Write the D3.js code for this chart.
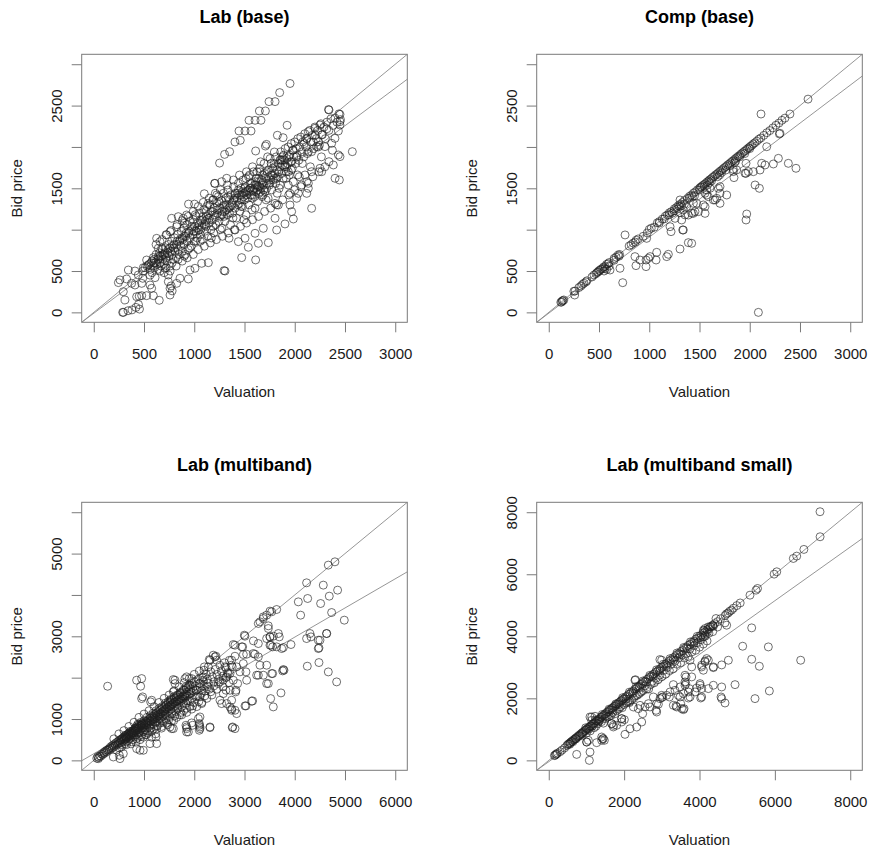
<!DOCTYPE html>
<html>
<head>
<meta charset="utf-8">
<script src="https://cdn.jsdelivr.net/npm/d3@7"></script>
<style>
  html, body { margin: 0; padding: 0; background: #fff; }
  svg { display: block; font-family: "Liberation Sans", Arial, sans-serif; }
</style>
</head>
<body>
<svg id="chart" width="869" height="852"></svg>
<script>
// Panel titles, axis limits and tick settings
const titles = ["Lab (base)", "Comp (base)", "Lab (multiband)", "Lab (multiband small)"];
const axisMax = [3000, 3000, 6000, 8000];
const tickStep = [500, 500, 1000, 2000];
const xTickLabels = [
  ["0", "500", "1000", "1500", "2000", "2500", "3000"],
  ["0", "500", "1000", "1500", "2000", "2500", "3000"],
  ["0", "1000", "2000", "3000", "4000", "5000", "6000"],
  ["0", "2000", "4000", "6000", "8000"]
];
const yTickLabels = [
  [0, 500, 1500, 2500],
  [0, 500, 1500, 2500],
  [0, 1000, 3000, 5000],
  [0, 2000, 4000, 6000, 8000]
];
const xLabel = "Valuation";
const yLabel = "Bid price";

// Reference lines per panel: [intercept, slope]
const identityLine = [0, 1];
const fitLines = [[-11, 0.907], [-10, 0.919], [160, 0.705], [-43, 0.865]];

// Bids against valuations: Lab (base)
const labBase = [
  [288,0],[295,0],[341,20],[380,30],[420,60],[445,95],[455,40],
  [261,392],[245,360],[327,404],[377,351],[410,331],[477,351],[487,412],[560,331],[576,291],
  [427,190],[452,195],[477,202],[526,202],[593,202],[652,146],[294,250],[311,150],
  [344,512],[410,500],[443,452],[493,540],[543,573],[526,633],[593,662],[642,674],[676,775],
  [709,533],[742,452],[742,371],[759,291],[759,210],[825,351],[858,412],[941,404],[770,320],[780,260],
  [958,512],[1007,533],[1074,593],[1140,601],
  [659,855],[626,895],[642,775],[725,936],[759,976],[825,1036],[775,1137],[841,1157],[891,1137],[924,1177],
  [1140,1318],[1190,1359],[1206,1560],[1273,1580],[1323,1621],[1306,500],[1296,505],
  [1953,2767],[1850,2657],[1744,2548],[1804,2548],[1648,2435],[1708,2435],[1545,2322],[1605,2322],[1664,2322],
  [1445,2193],[1505,2193],[1565,2193],[1405,2060],[1458,2080],[1302,1910],[1352,1943],[1252,1805],[1203,1559],
  [1100,1434],[943,1309],[1003,1309],[1924,2262],[1827,2141],[1884,2112],[1718,2031],[1708,2011],[1611,1951],[1797,1939],
  [2341,2447],[2336,2452],[2450,2394],[2450,2306],[2450,2265],[2434,2193],[2400,2104],[2367,2044],[2301,2004],
  [2573,1943],[2401,1621],[2444,1601],[2384,1782],[2341,1822],[2268,1701],[2251,1742],[2450,1883],[2434,1903],
  [2168,1258],[2119,1439],[2135,1500],[2036,1439],[2019,1379],[1953,1298],[1969,1218],[1986,1129],[1903,1069],
  [1820,996],[1737,843],[1638,835],[1611,634],[1538,787],[1472,662],[1687,1016],[1605,956],[1505,896],[1439,855],
  [1406,996],[1346,896],[1804,1137],[1837,1298],[1804,1318],[1953,1439],[1986,1580],[2029,1661],[2102,1661],[2168,1701],
  [2069,1540],[2135,1560],[1936,1701],[1903,1782],[1853,1842],[1969,1822],[2168,1943],[2218,2004],[2235,2064],
  [2268,2145],[2201,2225],[2251,2265],[2119,2104],[2135,2185],
  [560,520],[570,600],[580,480],[590,560],[600,640],[605,540],[615,600],[620,700],[630,580],[640,520],[645,650],
  [655,720],[660,600],[670,560],[675,680],[685,760],[690,640],[700,590],[705,700],[715,780],[720,660],[730,620],
  [735,720],[745,820],[750,680],[760,560],[765,740],[775,860],[780,700],[790,640],[795,780],[805,900],[810,740],
  [820,660],[825,820],[835,940],[840,760],[850,700],[855,860],[865,800],[870,980],[880,740],[885,880],[895,1020],
  [900,820],[910,700],[915,920],[925,1060],[930,860],[940,760],[945,960],[955,1100],[960,900],[970,800],[975,1000],
  [985,940],[990,1120],[1000,860],[1005,1040],[1015,980],[1020,1160],[1030,900],[1035,1080],[1045,1000],[1050,1200],
  [1060,940],[1065,1110],[1075,1040],[1080,880],[1090,1160],[1095,1240],[1105,980],[1110,1100],[1120,1040],[1125,1280],
  [1135,920],[1140,1180],[1150,1080],[1155,1300],[1165,1000],[1170,1220],[1180,1120],[1185,1360],[1195,960],[1200,1260],
  [1210,1160],[1215,1060],[1225,1320],[1230,1200],[1240,1400],[1245,1100],[1255,1260],[1260,1000],[1270,1350],[1275,1180],
  [1285,1280],[1290,1440],[1300,1220],[1305,1100],[1315,1380],[1320,1300],[1330,1180],[1335,1480],[1345,1260],[1350,1360],
  [1360,1060],[1365,1420],[1375,1300],[1380,1200],[1390,1520],[1395,1360],[1405,1260],[1410,1440],[1420,1140],[1425,1380],
  [1435,1300],[1440,1560],[1450,1420],[1455,1220],[1465,1500],[1470,1360],[1480,1280],[1485,1600],[1495,1440],[1500,1360],
  [1510,1520],[1515,1180],[1525,1460],[1530,1380],[1540,1640],[1545,1300],[1555,1500],[1560,1420],[1570,1560],[1575,1240],
  [1585,1480],[1590,1700],[1600,1400],[1605,1540],[1615,1460],[1620,1620],[1630,1340],[1635,1520],[1645,1440],[1650,1740],
  [1660,1580],[1665,1500],[1675,1400],[1680,1660],[1690,1540],[1695,1800],[1705,1460],[1710,1620],[1720,1560],[1725,1700],
  [1735,1380],[1740,1640],[1750,1540],[1755,1860],[1765,1660],[1770,1480],[1780,1740],[1785,1600],[1795,1800],[1800,1680],
  [1810,1560],[1815,1880],[1825,1720],[1830,1640],[1840,1800],[1845,1500],[1855,1760],[1860,1940],[1870,1680],[1875,1840],
  [1885,1620],[1890,1900],[1900,1760],[1905,1980],[1915,1700],[1920,1860],[1930,1800],[1935,2000],[1945,1660],[1950,1900],
  [1960,1820],[1965,2040],[1975,1740],[1980,1960],[1990,1880],[2000,2060],[2010,1800],[2015,1980],[2025,1900],[2030,2100],
  [2040,1840],[2050,2000],[2060,2120],[2070,1940],[2080,2060],[2090,1880],[2100,2160],[2110,2000],[2120,2100],[2135,1940],
  [2150,2200],[2160,2060],[2175,2140],[2190,1980],[2200,2240],[2215,2100],[2230,2200],[2245,2020],[2260,2280],[2275,2150],
  [2290,2240],[2305,2100],[2320,2300],[2340,2200],[2360,2340],[2380,2260],[2400,2350],[2420,2300],[2440,2400],[2455,2330],
  [1320,1240],[1350,1200],[1380,1320],[1400,1380],[1430,1440],[1450,1320],[1480,1460],[1500,1500],[1520,1420],[1540,1480],
  [1560,1560],[1580,1380],[1600,1500],[1620,1540],[1640,1620],[1660,1460],[1680,1560],[1700,1680],[1720,1500],[1740,1720],
  [1760,1600],[1780,1660],[1800,1760],[1820,1620],[1840,1700],[1860,1840],[1880,1780],[1900,1840],[1920,1760],[1940,1880],
  [1560,1500],[1590,1460],[1610,1580],[1630,1480],[1650,1520],[1670,1600],[1690,1480],[1470,1420],[1490,1400],[1510,1460],
  [1200,1180],[1230,1240],[1260,1160],[1280,1220],[1300,1300],[1180,1220],[1150,1140],[1120,1160],[1100,1060],[1080,1120],
  [1050,1060],[1030,1020],[1000,980],[980,1040],[950,980],[920,960],[900,920],[880,900],[860,880],[830,860],[800,820],
  [780,800],[760,780],[740,760],[710,720],[690,700],[660,680],[640,640],[600,600],[580,620],[550,580],[530,560],[510,540],[490,500],
  [620,820],[680,880],[720,940],[770,990],[830,1060],[880,1110],[940,1160],[990,1220],[1040,1280],[1090,1330],[1150,1380],
  [1210,1440],[1260,1480],[1330,1540],[1390,1600],[1450,1660],[1520,1700],[1580,1760],[1660,1820],[1730,1880],
  [700,480],[760,500],[820,560],[880,620],[930,660],[990,700],[1040,760],[1100,800],[1160,840],[1220,880],[1280,920],
  [1340,960],[1400,1000],[1460,1040],[1520,1080],[1580,1120],[1640,1160],[1700,1220],[1760,1260],[1820,1300],[1880,1360],
  [1940,1420],[2000,1480],[2060,1520],[2120,1580],[2180,1640],[2240,1700],[2300,1760],
  [1010,1180],[1060,860],[1115,1220],[1170,900],[1225,1420],[1275,1020],[1335,1400],[1385,1140],[1440,1480],[1495,1120],
  [1550,1660],[1605,1260],[1655,1700],[1715,1360],[1765,1800],[1825,1440],[1875,1880],[1935,1540],[1985,1960],[2045,1640],
  [2095,2040],[2155,1760],[2205,2140],[2265,1880],[2320,2220],[2375,1960],[905,1080],[955,780],[1015,860],[1065,1000],
  [1125,1120],[1185,1040],[1245,1340],[1295,1160],[1355,1280],[1405,1420],[1465,1280],[1515,1620],[1575,1420],[1625,1700],
  [1685,1420],[1745,1560],[1795,1620],[1855,1540],[1915,1620],[1965,1720],[2015,1880],[2075,1800],[2125,1920],[2185,2060],
  [2235,2000],[560,450],[610,420],[660,500],[720,540],[780,600],[840,640],[900,680]
];

// Bids against valuations: Comp (base)
const compBase = [
  [120,122],[128,126],[135,138],[140,142],[150,150],[250,255],[262,258],[300,300],[320,318],[335,338],[350,352],[370,368],
  [380,382],[430,428],[450,452],[470,468],[480,482],[490,488],[500,505],[510,508],[520,522],[535,530],[545,548],[560,555],
  [575,580],[590,588],[600,602],[650,652],[670,668],[690,692],[705,700],[800,802],[820,818],[840,838],[870,872],[890,888],
  [1000,1002],[1020,1018],[1080,1082],[1100,1098],[1130,1128],[1160,1162],[1180,1178],[1200,1204],[1220,1218],[1250,1252],
  [1270,1268],[1290,1292],[1310,1308],[1330,1328],[1350,1352],[1380,1378],[1400,1402],[1420,1418],[1440,1442],[1460,1458],
  [1480,1482],[1500,1500],[1510,1512],[1520,1518],[1530,1532],[1545,1545],[1560,1558],[1575,1576],[1590,1588],[1600,1602],
  [1615,1614],[1630,1632],[1645,1644],[1660,1662],[1675,1674],[1690,1690],[1705,1706],[1720,1718],[1735,1736],[1750,1750],
  [1765,1764],[1780,1782],[1795,1794],[1810,1810],[1825,1826],[1840,1838],[1855,1856],[1870,1870],[1885,1886],[1900,1898],
  [1915,1916],[1930,1930],[1945,1946],[1960,1958],[1975,1976],[1990,1990],[2005,2006],[2020,2018],[2035,2036],[2050,2050],
  [2070,2070],[2090,2092],[2110,2108],[2140,2140],[2170,2172],[2200,2198],[2230,2230],[2260,2262],[2290,2288],[2320,2322],
  [2350,2348],[2400,2398],[2580,2578],
  [1500,1480],[1550,1520],[1580,1540],[1620,1590],[1680,1640],[1720,1690],[1760,1720],[1800,1770],[1860,1830],[1900,1880],
  [1950,1920],[2000,1980],[1400,1380],[1300,1280],[1250,1230],[1200,1180],[1350,1310],[1450,1410],[1100,1080],[650,630],
  [560,530],[600,560],[550,500],[700,680],[860,850],[940,920],[980,960],[1050,1030],[1150,1130],[1230,1200],[1280,1250],
  [1320,1290],[1430,1400],[1600,1570],[1700,1660],[1850,1810],
  [2112,2398],[2086,0],[2295,2157],[2169,2003],[2235,1794],[2285,1862],[2384,1802],[2460,1742],[2119,1802],[2152,1782],
  [2036,1701],[1963,1681],[1963,1802],[2102,1721],[2053,1540],[2096,1500],[1970,1189],[1963,1117],[1837,1729],[1843,1629],
  [1771,1419],[1704,1520],[1704,1318],[1688,1500],[1638,1359],[1671,1379],[1572,1480],[1572,1419],[1605,1500],[1555,1278],
  [1555,1197],[1439,1318],[1439,1197],[1389,1177],[1339,1238],[1372,1278],[1455,1218],[1306,1205],[1323,1117],[1306,1359],
  [1389,843],[1306,766],[1333,996],[1207,1036],[1217,976],[1174,674],[1190,702],[1074,726],[1068,633],[968,633],[991,653],
  [1008,674],[908,633],[858,674],[868,565],[968,553],[759,936],[736,359],[709,533],[610,512],[577,520],[258,210],[974,895],
  [1986,1702],[1953,1682],[1704,1440],[1655,1359],[1588,1399],[1555,1440],[1538,1299],[1472,1319],[1489,1218],[1422,1198],
  [1356,1178],[1257,1137],[1339,996],[1422,835],[1837,1702],[1870,1722],[2301,2165]
];

// Bids against valuations: Lab (multiband)
const labMulti = [
  [4800,4801],[4668,4721],[4236,4293],[4568,4237],[4853,4116],[4687,3971],[4515,3793],[4734,3575],[4986,3390],[4071,3833],
  [4117,3511],[4303,3067],[4323,2986],[4236,2946],[4502,2906],[4482,2720],[4634,3067],[4250,2277],[4482,2365],[4668,2139],
  [4834,1898],[3925,2801],[3772,2728],[3786,2180],[3759,2164],[3726,1631],[3673,3067],[3692,2986],[3560,2744],[3507,2785],
  [3640,3648],[3507,3608],[3441,3511],[3374,3470],[3275,3310],[3308,3350],[3474,3253],[3474,3188],[3441,2946],[3507,2986],
  [3275,2825],[3208,2567],[3308,2301],[3275,2059],[3441,2301],[3560,2099],[3441,1857],[3520,1494],[3573,1293],[3162,1438],
  [3029,1317],[3009,3003],[2963,2744],[2810,2785],[2777,2801],[2810,2518],[2844,2261],[3043,2567],[2976,2341],[3029,2140],
  [3043,1938],[2757,2261],[2744,2422],[2711,2099],[2645,2019],[2910,2140],[2863,1857],[2830,1696],[2744,1244],[2757,792],
  [2313,792],[2300,2438],[2379,2543],[2412,2502],[2445,2422],[2479,1857],[2545,1373],[2512,1454],[2645,1373],[2711,1293],
  [2578,1615],[2631,1696],[2194,2180],[2180,1938],[2114,1857],[2114,1535],[2147,1373],[2114,1050],[2081,1010],[2101,849],
  [2114,768],[2101,889],[1948,905],[1968,849],[1848,808],[1848,687],[1815,1978],[1948,1978],[1583,1954],[1617,1857],
  [1583,1656],[1517,1454],[1583,768],[1152,1454],[1132,1414],[973,1535],[953,1494],[853,1938],[953,1978],[933,1793],
  [276,1793],[986,244],[522,42],[509,123],[389,82],[91,42],
  [3177,2890],[2944,2745],[2977,2559],[3176,2583],[3275,2503],[3773,2196],[3242,2059],[3375,2059],[3541,2099],[3474,1857],
  [3143,1430],[3010,1317],[2811,768],[2811,1212],[3740,2704],[3640,2745],[3527,2785],[4469,2906],[4469,2704],[4635,3067],
  [4257,3914],[3375,3430],[3541,3592],[2997,3027],[3508,2986],[3574,3003],
  [2432,2518],[2313,2422],[2280,2261],[2611,2261],[2678,2099],[2578,1938],[2777,1938],[2711,1696],[2744,1454],[2824,1656],
  [2744,1212],[2844,1131],[2180,2019],[2048,1696],[1849,2019],[1616,1938],[1252,405],[1238,566],[1119,405],[920,244],
  [854,284],[588,163],[1517,808],[1550,768],[1849,768],[1882,687],[1835,849],[2114,808],[2101,728],[2313,808],[2764,808],
  [60,50],[80,90],[100,70],[120,110],[140,100],[160,150],[180,140],[200,190],[210,170],[230,220],[250,200],[260,250],
  [280,240],[300,280],[310,260],[330,320],[340,290],[360,350],[370,300],[390,370],[400,330],[420,400],[430,360],[450,430],
  [460,380],[480,450],[490,410],[500,480],[510,300],[520,440],[530,500],[540,420],[555,520],[560,380],[575,540],[580,460],
  [600,560],[610,500],[620,400],[630,590],[640,520],[650,450],[660,620],[670,560],[680,480],[690,650],[700,590],[710,520],
  [720,680],[730,620],[740,400],[745,560],[760,700],[770,640],[780,500],[790,720],[800,660],[810,580],[820,760],[830,700],
  [840,440],[845,620],[860,800],[870,720],[880,560],[890,820],[900,760],[910,680],[920,500],[930,850],[940,780],[950,620],
  [960,880],[970,800],[980,700],[990,560],[1000,900],[1010,840],[1020,740],[1030,620],[1040,940],[1050,860],[1060,780],
  [1070,660],[1080,980],[1090,900],[1100,820],[1110,700],[1120,1020],[1130,940],[1140,860],[1150,560],[1160,1060],[1170,980],
  [1180,880],[1190,760],[1200,1100],[1210,1000],[1220,920],[1230,640],[1240,1140],[1250,1040],[1260,960],[1270,840],
  [1280,1180],[1290,1080],[1300,1000],[1310,900],[1320,1220],[1330,1120],[1340,1040],[1350,780],[1360,1260],[1370,1160],
  [1380,1080],[1390,960],[1400,1300],[1410,1200],[1420,1120],[1430,1000],[1440,1340],[1450,1240],[1460,1160],[1470,860],
  [1480,1380],[1490,1280],[1500,1200],[1510,1060],[1520,1420],[1530,1320],[1540,1240],[1550,1120],[1560,1460],[1570,1360],
  [1580,1280],[1590,960],[1600,1500],[1610,1400],[1620,1320],[1630,1180],[1640,1540],[1650,1440],[1660,1360],[1670,1240],
  [1680,1580],[1690,1480],[1700,1400],[1710,1100],[1720,1620],[1730,1520],[1740,1440],[1750,1300],[1760,1660],[1770,1560],
  [1780,1480],[1790,1200],[1800,1700],[1810,1600],[1820,1520],[1830,1380],[1840,1740],[1850,1640],[1860,1560],[1870,1440],
  [1880,1780],[1890,1680],[1900,1600],[1910,1300],[1920,1820],[1930,1720],[1940,1640],[1950,1500],[1960,1860],[1970,1760],
  [1980,1680],[1990,1400],[2000,1900],[2020,1800],[2040,1700],[2060,1560],[2080,1960],[2100,1860],[2120,1760],[2140,1620],
  [2160,2000],[2180,1900],[2200,1800],[2220,1680],[2240,2080],[2260,1960],[2280,1860],[2300,1720],[2330,2140],[2360,2020],
  [2390,1900],[2420,2200],[2450,2080],[2480,1960],[2510,2300],[2540,2160],[2570,2040],[2600,2360],[2630,2240],[2660,2120],
  [2700,2420],[2740,2300],
  [700,640],[760,660],[820,720],[880,780],[940,840],[1000,860],[1060,920],[1120,960],[1180,1020],[1240,1080],[1300,1120],
  [1360,1180],[1420,1240],[1480,1300],[1540,1340],[1600,1400],[1660,1440],[1720,1480],[1780,1540],[1840,1580],[650,560],
  [720,600],[790,680],[850,740],[910,800],[970,860],[1030,880],[1090,940],[1150,1000],[1210,1060],[1270,1100],[1330,1140],
  [1390,1200],[1450,1260],[1510,1320],[1570,1380],[1630,1420],[1690,1460],[1750,1500],[1810,1560],[880,880],[940,920],
  [1000,960],[1060,1040],[1120,1080],[1180,1140],[1240,1200],[1300,1260],[1360,1300],[1420,1380],[1480,1420],[1540,1480],
  [1600,1540],[1660,1580],[1720,1640],[1780,1700],[1840,1780],[1900,1820],[560,500],[600,520],[640,580],[680,620],[740,660],
  [780,720],[820,780],[860,840],[900,860],[960,900],
  [400,520],[500,640],[600,720],[700,820],[800,920],[900,1040],[1000,1120],[1100,1200],[1200,1300],[1300,1400],[1400,1500],
  [1500,1580],[1600,1680],[1700,1780],[1800,1880],[1900,1980],[2000,2080],[2100,2160],[2200,2260],
  [450,250],[550,320],[650,380],[750,450],[850,520],[950,580],[1050,620],[1150,700],[1250,760],[1350,820],[1450,900],
  [1550,960],[1650,1040],[1750,1100],[1850,1160],[1950,1240],[2050,1300],[2150,1400],[2250,1500],[2350,1580],
  [620,600],[660,540],[720,700],[780,620],[840,780],[890,660],[950,840],[1010,700],[1070,900],[1130,780],[1190,960],
  [1250,840],[1310,1040],[1370,920],[1430,1100],[1490,980],[1550,1180],[1610,1080],[1670,1280],[1730,1160],[1790,1380],
  [1850,1260],[1910,1440],[1970,1320],[2030,1540],[2090,1420],[2150,1680],[2210,1560],[2270,1780],[2330,1660],[2390,1800],
  [2450,1720],[2510,1900],[2570,1780],[2630,2000],[2690,1880]
];

// Bids against valuations: Lab (multiband small)
const labMultiSmall = [
  [150,155],[170,165],[190,195],[210,205],[230,232],[480,478],[510,515],[530,525],[560,562],[580,575],[600,605],[620,615],
  [650,655],[680,672],[700,705],[720,715],[750,752],[780,775],[800,805],[830,826],[860,865],[880,874],[900,905],[930,925],
  [960,964],[980,972],[1000,1008],[1020,1015],[1050,1055],[1080,1072],[1100,1106],[1120,1113],[1150,1155],[1180,1172],
  [1200,1206],[1230,1222],[1260,1266],[1290,1282],[1320,1326],[1350,1342],[1380,1386],[1400,1392],[1430,1436],[1460,1452],
  [1490,1496],[1520,1512],[1550,1556],[1580,1572],[1610,1616],[1640,1632],[1670,1676],[1700,1692],[1730,1736],[1760,1752],
  [1790,1796],[1820,1812],[1850,1856],[1880,1872],[1910,1916],[1940,1932],[1970,1976],[2000,1992],[2040,2046],[2080,2072],
  [2120,2126],[2160,2152],[2200,2206],[2240,2232],[2280,2286],[2320,2312],[2360,2366],[2400,2392],[2440,2446],[2480,2472],
  [2520,2526],[2560,2552],[2600,2606],[2640,2632],[2680,2686],[2720,2712],[2760,2766],[2800,2792],[2840,2846],[2880,2872],
  [2920,2926],[2960,2952],[3000,3006],[3050,3042],[3100,3106],[3150,3142],[3200,3206],[3250,3242],[3300,3306],[3350,3342],
  [3400,3406],[3450,3442],[3500,3506],[3550,3542],[3600,3606],[3650,3642],[3700,3706],[3750,3742],[3800,3806],[3850,3842],
  [3900,3906],[3950,3942],[4000,4006],[4050,4042],[4100,4106],[4150,4142],[4200,4206],[4250,4242],[4300,4306],[4350,4342],
  [4400,4406],[4480,4472],[4560,4566],[4680,4672],[4720,4726],[4760,4752],[4800,4806],[4850,4842],[4900,4906],[4990,4990],
  [5080,5075],[5340,5326],[5500,5488],[5540,5542],[5980,6004],[6050,6080],[6490,6510],[6580,6585],[6770,6801],[7200,7209],
  [7198,8016],
  [4102,4197],[4146,4250],[4235,4304],[4279,4304],[4368,4326],[4438,4573],[4350,4358],[4146,4035],[4102,3981],[4677,4433],
  [4721,4358],[1094,1400],[1227,1421],[2288,2583],[2996,3229],
  [5385,4272],[5146,3680],[5827,3658],[4766,3228],[5385,3260],[5588,3034],[6685,3228],[5854,2238],[5473,1991],[4943,2442],
  [4368,2991],[4589,3077],[4589,2366],[4677,1850],[4571,2044],[4191,3281],[4147,3206],[4058,3012],[4014,2474],[4032,2011],
  [3925,2334],[3704,2011],[3731,2313],[3634,2474],[3643,2689],[3616,2420],[3501,1828],[3439,2097],[3350,2259],[3306,2442],
  [3589,1667],[3377,1753],[3200,2044],[3129,2097],[3218,2205],[2997,2097],[3023,2044],[2952,1990],[2775,2044],[2864,1828],
  [2643,1828],[2422,1774],[2245,1721],[2139,1861],[2492,1506],[2377,1667],[2864,1560],[2846,1613],[2333,1075],[2466,1237],
  [2156,1021],[2023,839],[1935,1344],[2006,1312],[1714,1129],[1670,1183],[1431,698],[1404,645],[1404,753],[1139,1398],
  [1139,1290],[1095,268],[1077,0],[741,193],[1006,591],
  [4146,3174],[4058,3067],[4368,3013],[4102,2906],[4235,3228],[3748,3228],[3793,3013],[3616,2744],[3793,2690],[3616,2529],
  [3483,2367],[4014,2421],[4368,2421],[3704,2206],[3881,2206],[3571,2152],[3483,2044],[4058,2314],[4235,2314],[4058,2044],
  [3748,2044],[4589,1991],[3571,1636],[2908,1808],[2996,2023],[3306,1776],[3394,1722],[3527,1669],[2554,1722],[2686,1722],
  [1935,1238],[1802,1130],[1669,1184],[1714,1077],[1935,1345],[1050,646],[1006,592],[1271,571],[1448,700],[1475,646],
  [1000,880],[1200,1050],[1300,1180],[1400,1250],[1500,1350],[1600,1420],[1700,1540],[1800,1600],[1900,1720],[2000,1800],
  [2100,1900],[2200,1950],[2300,2080],[2400,2150],[2500,2250],[2600,2300],[2700,2450],[2800,2500],[2900,2600],[3000,2700],
  [3100,2780],[3200,2900],[3300,2950],[3400,3100],[3500,3150],[3600,3300],[3700,3350],[3800,3500],[3900,3550],[4000,3650],
  [4100,3750],[4200,3850],[1100,950],[1250,1100],[1350,1300],[1450,1200],[1550,1400],[1650,1450],[1750,1500],[1850,1650],
  [1950,1700],[2050,1850],[2150,1900],[2250,2000],[2350,2100],[2450,2200],[2550,2400],[2650,2300],[2750,2550],[2850,2650],
  [2950,2750],[3050,2900],[3150,3000],[3250,3100],[3350,3200],[3450,3300],[3550,3400],[3650,3450],[3750,3600],[3850,3700],
  [3950,3800],[4050,3900],[4150,4000],[4250,4100],[4350,4150],[4480,4300],[2300,2600],[2950,3250],
  [300,280],[350,330],[420,400],[560,520],[640,600],[720,690],[820,780],[900,850],[980,1050],[1060,1000],[1150,1100],
  [1240,1300],[1330,1260],[1420,1480],[1510,1440],[1600,1650],[1690,1620],[1780,1820],[1870,1800],[1960,2020],[2050,1980],
  [2140,2200],[2230,2160],[2320,2380],[2410,2340],[2500,2560],[2590,2520],[2680,2740],[2770,2700],[2860,2920],[2950,2880],
  [3040,3100],[3130,3060],[3220,3280],[3310,3240],[3400,3460],[3490,3420],[3580,3640],[3670,3600],[3760,3820],[3850,3780],
  [3940,4000],[4030,3960],[4120,4180],[4210,4140]
];

const panelData = [labBase, compBase, labMulti, labMultiSmall];

// Plot-region geometry for the 2x2 grid
const plotW = 325.6, plotH = 268;
const plotOrigins = [[81.7, 54.3], [536.7, 54.3], [81.7, 502.3], [536.7, 502.3]];

const svg = d3.select("#chart");
const boxColor = "#7a7a7a";
const lineColor = "#8a8a8a";
const textColor = "#1a1a1a";

panelData.forEach((pts, i) => {
  const [left, top] = plotOrigins[i];
  const max = axisMax[i];
  const pad = 0.04 * max;
  const x = d3.scaleLinear().domain([-pad, max + pad]).range([left, left + plotW]);
  const y = d3.scaleLinear().domain([-pad, max + pad]).range([top + plotH, top]);
  const ticks = d3.range(0, max + 1, tickStep[i]);

  const g = svg.append("g");

  const clipId = "clip" + i;
  g.append("clipPath").attr("id", clipId)
    .append("rect").attr("x", left).attr("y", top).attr("width", plotW).attr("height", plotH);

  const inner = g.append("g").attr("clip-path", `url(#${clipId})`);

  // Reference lines: identity and fitted slope
  [identityLine, fitLines[i]].forEach(([a, b]) => {
    const x0 = -pad, x1 = max + pad;
    inner.append("line")
      .attr("x1", x(x0)).attr("y1", y(a + b * x0))
      .attr("x2", x(x1)).attr("y2", y(a + b * x1))
      .attr("stroke", lineColor).attr("stroke-width", 0.9);
  });

  // Open-circle scatter
  inner.selectAll("circle").data(pts).enter().append("circle")
    .attr("cx", d => x(d[0])).attr("cy", d => y(d[1])).attr("r", 4)
    .attr("fill", "none").attr("stroke", "#1e1e1e").attr("stroke-width", 0.75)
    .attr("stroke-opacity", 0.85);

  // Frame
  g.append("rect").attr("x", left).attr("y", top).attr("width", plotW).attr("height", plotH)
    .attr("fill", "none").attr("stroke", boxColor).attr("stroke-width", 1);

  // Bottom axis
  const xAxis = g.append("g").attr("transform", `translate(0,${top + plotH})`)
    .call(d3.axisBottom(x).tickValues(ticks).tickSize(10).tickFormat((d, k) => xTickLabels[i][k]));
  xAxis.select(".domain").remove();
  xAxis.selectAll(".tick line").attr("stroke", boxColor);
  xAxis.selectAll(".tick text").attr("fill", textColor).attr("font-size", 15)
    .attr("font-family", "Liberation Sans, Arial, sans-serif").attr("y", 26).attr("dy", "0.71em");

  // Left axis with rotated labels
  const yAxis = g.append("g").attr("transform", `translate(${left},0)`)
    .call(d3.axisLeft(y).tickValues(ticks).tickSize(10).tickFormat(d => yTickLabels[i].includes(d) ? String(d) : ""));
  yAxis.select(".domain").remove();
  yAxis.selectAll(".tick line").attr("stroke", boxColor);
  yAxis.selectAll(".tick text").attr("fill", textColor).attr("font-size", 15)
    .attr("font-family", "Liberation Sans, Arial, sans-serif")
    .attr("x", null).attr("dy", null)
    .attr("text-anchor", "middle")
    .attr("transform", "translate(-20,0) rotate(-90)");

  // Title and axis titles
  g.append("text").attr("x", left + plotW / 2).attr("y", top - 31.5)
    .attr("text-anchor", "middle").attr("font-weight", "bold").attr("font-size", 18)
    .attr("fill", "#000").text(titles[i]);
  g.append("text").attr("x", left + plotW / 2).attr("y", top + plotH + 75)
    .attr("text-anchor", "middle").attr("font-size", 15).attr("fill", textColor).text(xLabel);
  g.append("text")
    .attr("transform", `translate(${left - 59.5},${top + plotH / 2}) rotate(-90)`)
    .attr("text-anchor", "middle").attr("font-size", 15).attr("fill", textColor).text(yLabel);
});
</script>
</body>
</html>
